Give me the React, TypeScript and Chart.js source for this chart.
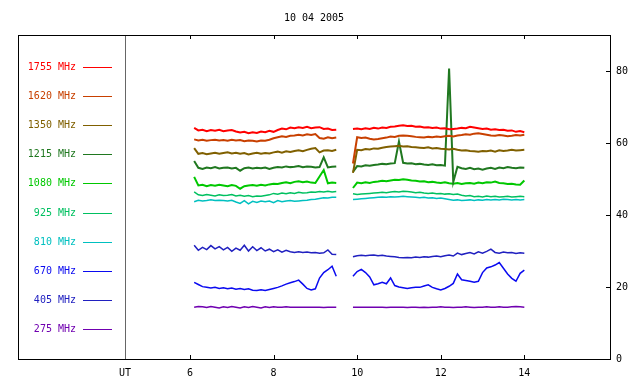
import React, { useEffect, useRef } from 'react';
import { Chart, registerables } from 'chart.js';

Chart.register(...registerables);

const TITLE = '10 04 2005';

// sample times (UT hours): morning block, gap marker, afternoon block
const TIMES_A = [6.1, 6.2, 6.3, 6.4, 6.5, 6.6, 6.7, 6.8, 6.9, 7.0, 7.1, 7.2, 7.3, 7.4, 7.5, 7.6, 7.7, 7.8, 7.9, 8.0, 8.1, 8.2, 8.3, 8.4, 8.5, 8.6, 8.7, 8.8, 8.9, 9.0, 9.1, 9.2, 9.3, 9.4, 9.5];
const GAP_TIME = 9.7;
const TIMES_B = [9.9, 10.0, 10.1, 10.2, 10.3, 10.4, 10.5, 10.6, 10.7, 10.8, 10.9, 11.0, 11.1, 11.2, 11.3, 11.4, 11.5, 11.6, 11.7, 11.8, 11.9, 12.0, 12.1, 12.2, 12.3, 12.4, 12.5, 12.6, 12.7, 12.8, 12.9, 13.0, 13.1, 13.2, 13.3, 13.4, 13.5, 13.6, 13.7, 13.8, 13.9, 14.0];

const X_TICKS = [6, 8, 10, 12, 14];
const UT_POS = 4.445;
const UT_LABEL = 'UT';
const Y_TICKS = [0, 20, 40, 60, 80];

const S1755_A = [64.2, 63.5, 63.7, 63.3, 63.6, 63.4, 63.7, 63.3, 63.5, 63.6, 63.2, 62.9, 63.1, 62.7, 63.0, 62.8, 63.2, 63.0, 63.4, 63.1, 63.6, 64.0, 63.8, 64.3, 64.1, 64.4, 64.2, 64.5, 64.1, 64.3, 64.4, 63.9, 64.0, 63.6, 63.7];
const S1755_B = [63.9, 64.0, 63.8, 64.1, 63.9, 64.2, 64.0, 64.3, 64.2, 64.5, 64.6, 64.8, 64.9, 64.7, 64.8, 64.5, 64.6, 64.3, 64.4, 64.2, 64.3, 64.0, 64.1, 63.8, 63.9, 64.0, 64.2, 64.1, 64.5, 64.3, 64.1, 63.9, 64.0, 63.7, 63.8, 63.6, 63.7, 63.4, 63.5, 63.1, 63.3, 63.0];

const S1620_A = [61.0, 60.7, 60.9, 60.6, 60.8, 60.9, 60.7, 60.8, 60.6, 60.9, 60.7, 60.8, 60.5, 60.7, 60.6, 60.4, 60.7, 60.6, 60.9, 61.3, 61.6, 61.9, 61.7, 62.0, 62.1, 62.3, 62.1, 62.4, 62.2, 62.5, 61.4, 61.2, 61.6, 61.3, 61.5];
const S1620_B = [54.3, 61.6, 61.4, 61.5, 61.2, 61.0, 61.1, 61.3, 61.5, 61.8, 61.7, 62.0, 62.1, 62.0, 61.9, 61.7, 61.6, 61.5, 61.7, 61.6, 61.8, 61.7, 61.9, 62.0, 61.8, 62.1, 62.2, 62.4, 62.3, 62.6, 62.7, 62.5, 62.3, 62.1, 62.0, 62.2, 62.1, 61.9, 62.0, 62.2, 62.1, 62.3];

const S1350_A = [58.6, 57.0, 57.2, 56.9, 57.1, 57.3, 57.0, 57.2, 57.4, 57.1, 57.3, 57.0, 57.2, 56.8, 57.1, 57.3, 57.0, 57.2, 57.1, 57.4, 57.6, 57.3, 57.7, 57.5, 57.8, 58.0, 57.7, 58.1, 58.4, 58.6, 57.4, 57.9, 58.0, 57.8, 58.1];
const S1350_B = [51.7, 58.1, 58.0, 58.3, 58.2, 58.5, 58.4, 58.7, 58.9, 59.0, 59.1, 59.2, 59.0, 59.1, 58.9, 58.8, 58.7, 58.6, 58.8, 58.5, 58.6, 58.4, 58.3, 58.2, 58.4, 58.1, 57.9, 58.0, 57.8, 57.7, 57.6, 57.8, 57.7, 57.9, 57.6, 58.0, 57.8, 57.9, 58.1, 57.9, 58.0, 58.1];

const S1215_A = [55.0, 53.1, 52.8, 53.2, 53.0, 53.3, 52.9, 53.1, 53.2, 52.9, 53.1, 52.3, 53.0, 53.2, 52.9, 53.1, 53.0, 53.2, 52.8, 53.1, 53.3, 53.2, 53.5, 53.3, 53.4, 53.6, 53.3, 53.5, 53.4, 53.2, 53.3, 56.0, 53.2, 53.4, 53.5];
const S1215_B = [52.0, 53.6, 53.5, 53.8, 53.7, 53.9, 54.0, 54.2, 54.1, 54.3, 54.4, 60.4, 54.5, 54.3, 54.4, 54.1, 54.2, 54.0, 53.9, 54.1, 53.8, 53.9, 53.7, 80.7, 49.2, 53.4, 53.0, 52.8, 53.1, 52.7, 52.9, 52.6, 52.9, 53.1, 52.8, 53.2, 53.0, 53.3, 53.1, 53.0, 53.2, 53.1];

const S1080_A = [50.6, 48.2, 48.4, 48.0, 48.3, 48.1, 48.4, 48.2, 48.0, 48.3, 48.1, 47.3, 48.0, 48.2, 48.3, 48.1, 48.4, 48.2, 48.5, 48.7, 48.6, 48.9, 49.1, 48.8, 49.2, 49.4, 49.1, 49.3, 49.0, 48.9, 50.7, 52.5, 48.8, 49.0, 48.9];
const S1080_B = [47.5, 49.0, 48.8, 49.1, 48.9, 49.2, 49.3, 49.5, 49.4, 49.6, 49.8, 49.7, 49.9, 49.8, 49.6, 49.5, 49.3, 49.4, 49.1, 49.2, 49.0, 48.9, 49.1, 48.8, 48.7, 48.9, 48.6, 48.8, 48.9, 48.7, 49.0, 48.8, 49.1, 49.0, 49.3, 48.9, 48.8, 48.6, 48.7, 48.5, 48.4, 49.6];

const S925_A = [46.4, 45.6, 45.4, 45.7, 45.5, 45.3, 45.6, 45.4, 45.5, 45.7, 45.3, 45.5, 45.2, 45.4, 45.1, 45.3, 45.2, 45.4, 45.6, 46.0, 45.8, 46.1, 45.9, 46.2, 46.0, 46.3, 46.1, 46.2, 46.4, 46.3, 46.5, 46.4, 46.6, 46.4, 46.5];
const S925_B = [45.9, 45.7, 45.8, 45.9, 46.0, 46.1, 46.2, 46.3, 46.2, 46.4, 46.5, 46.4, 46.6, 46.5, 46.4, 46.2, 46.3, 46.1, 46.0, 46.1, 45.9, 46.0, 45.8, 45.9, 45.7, 45.8, 45.5, 45.3, 45.4, 45.1, 45.2, 45.0, 45.3, 45.1, 45.2, 45.0, 45.1, 45.2, 45.0, 45.1, 45.2, 45.1];

const S810_A = [43.7, 44.1, 43.9, 44.0, 44.2, 44.0, 44.1, 44.0, 43.9, 44.1, 43.6, 43.2, 44.0, 43.1, 43.8, 43.5, 43.9, 43.7, 43.9, 43.4, 44.0, 43.7, 43.9, 44.0, 43.8, 43.9, 44.0, 44.1, 44.3, 44.4, 44.6, 44.8, 44.7, 44.9, 44.9];
const S810_B = [44.3, 44.4, 44.5, 44.6, 44.7, 44.8, 44.9, 45.0, 44.9, 45.1, 45.0, 45.1, 45.2, 45.1, 45.0, 44.9, 44.8, 44.9, 44.7, 44.8, 44.6, 44.7, 44.5, 44.3, 44.1, 44.2, 44.0, 44.1, 44.2, 44.0, 44.2, 44.1, 44.3, 44.2, 44.3, 44.2, 44.4, 44.3, 44.2, 44.3, 44.2, 44.3];

const S670_A = [21.3, 20.7, 20.1, 19.9, 19.7, 19.9, 19.6, 19.8, 19.5, 19.7, 19.4, 19.6, 19.3, 19.5, 19.1, 19.0, 19.2, 19.0, 19.3, 19.6, 19.9, 20.3, 20.8, 21.2, 21.5, 21.9, 20.8, 19.6, 19.2, 19.5, 22.5, 24.0, 24.8, 25.8, 23.0];
const S670_B = [23.0, 24.3, 24.9, 24.0, 22.8, 20.6, 20.9, 21.3, 20.9, 22.5, 20.4, 20.0, 19.8, 19.6, 19.8, 19.9, 19.9, 20.3, 20.6, 19.9, 19.5, 19.2, 19.6, 20.2, 21.0, 23.6, 22.0, 21.8, 21.6, 21.3, 21.6, 24.0, 25.3, 25.6, 26.1, 26.8, 25.2, 23.6, 22.4, 21.6, 23.8, 24.7];

const S405_A = [31.6, 30.2, 31.0, 30.4, 31.5, 30.6, 31.2, 30.3, 31.0, 29.9, 30.8, 30.2, 31.6, 30.0, 31.2, 30.1, 30.9, 30.0, 30.5, 29.8, 30.3, 29.7, 30.2, 29.8, 29.6, 29.8, 29.6, 29.7, 29.5, 29.6, 29.4, 29.5, 30.3, 29.1, 29.0];
const S405_B = [28.4, 28.7, 28.8, 28.7, 28.8, 28.9, 28.7, 28.8, 28.6, 28.5, 28.4, 28.2, 28.1, 28.2, 28.1, 28.3, 28.2, 28.4, 28.3, 28.5, 28.6, 28.4, 28.7, 28.9, 28.6, 29.4, 29.0, 29.3, 29.6, 29.2, 29.8, 29.4, 29.9, 30.5, 29.6, 29.4, 29.7, 29.5, 29.6, 29.3, 29.5, 29.4];

const S275_A = [14.4, 14.6, 14.5, 14.3, 14.6, 14.4, 14.2, 14.5, 14.3, 14.6, 14.4, 14.2, 14.5, 14.3, 14.6, 14.4, 14.2, 14.5, 14.3, 14.5, 14.4, 14.4, 14.5, 14.4, 14.4, 14.4, 14.4, 14.4, 14.4, 14.4, 14.4, 14.3, 14.4, 14.4, 14.4];
const S275_B = [14.4, 14.4, 14.4, 14.4, 14.4, 14.4, 14.4, 14.4, 14.3, 14.4, 14.4, 14.4, 14.4, 14.3, 14.4, 14.4, 14.3, 14.4, 14.3, 14.4, 14.4, 14.5, 14.4, 14.4, 14.3, 14.4, 14.4, 14.5, 14.4, 14.3, 14.4, 14.4, 14.5, 14.4, 14.4, 14.5, 14.4, 14.4, 14.5, 14.6, 14.5, 14.4];

const LABELS = ['1755 MHz', '1620 MHz', '1350 MHz', '1215 MHz', '1080 MHz', '925 MHz', '810 MHz', '670 MHz', '405 MHz', '275 MHz'];
const COLORS = ['#ff0000', '#c84000', '#806000', '#207820', '#00c800', '#00c060', '#00c0c0', '#0a0af0', '#2020c0', '#7000b0'];
const WIDTHS = [2, 2, 2, 2, 2, 1.5, 1.5, 1.5, 1.5, 1.5];
const SERIES_A = [S1755_A, S1620_A, S1350_A, S1215_A, S1080_A, S925_A, S810_A, S670_A, S405_A, S275_A];
const SERIES_B = [S1755_B, S1620_B, S1350_B, S1215_B, S1080_B, S925_B, S810_B, S670_B, S405_B, S275_B];

const FONT = '"DejaVu Sans Mono", monospace';

const decor = {
  id: 'decor',
  beforeDatasetsDraw(chart: any) {
    const { ctx, chartArea: a, scales } = chart;
    const xs = scales.x;
    const ys = scales.y;
    ctx.save();
    // UT divider
    const ux = Math.round(xs.getPixelForValue(UT_POS));
    ctx.fillStyle = '#666666';
    ctx.fillRect(ux, a.top, 1, a.bottom - a.top);
    // frame
    ctx.lineWidth = 1;
    ctx.strokeStyle = '#000000';
    ctx.strokeRect(a.left + 0.5, a.top + 0.5, a.right - a.left, a.bottom - a.top);
    // inward tick marks
    ctx.fillStyle = '#000000';
    for (const v of X_TICKS) {
      const px = Math.round(xs.getPixelForValue(v));
      ctx.fillRect(px, a.top, 1, 4);
      ctx.fillRect(px, a.bottom - 4, 1, 5);
    }
    for (const v of Y_TICKS) {
      const py = Math.round(ys.getPixelForValue(v));
      ctx.fillRect(a.right - 4, py, 5, 1);
    }
    // title
    ctx.font = '10px ' + FONT;
    ctx.fillStyle = '#000000';
    ctx.textAlign = 'center';
    ctx.textBaseline = 'middle';
    ctx.fillText(TITLE, (a.left + a.right) / 2, a.top - 17);
    // frequency legend
    ctx.textAlign = 'right';
    LABELS.forEach((lab, i) => {
      const ly = a.top + 32.5 + i * 29.1;
      ctx.fillStyle = COLORS[i];
      ctx.fillText(lab, a.left + 58, ly);
      ctx.fillRect(a.left + 65, Math.floor(ly), 29, 1);
    });
    ctx.restore();
  },
};

export default function App() {
  const ref = useRef<HTMLCanvasElement | null>(null);
  useEffect(() => {
    document.body.style.margin = '0';
    const canvas = ref.current;
    if (!canvas) return;
    const datasets = LABELS.map((lab, i) => {
      const pts: any[] = [];
      TIMES_A.forEach((t, k) => pts.push({ x: t, y: SERIES_A[i][k] }));
      pts.push({ x: GAP_TIME, y: null });
      TIMES_B.forEach((t, k) => pts.push({ x: t, y: SERIES_B[i][k] }));
      return {
        label: lab,
        data: pts,
        borderColor: COLORS[i],
        backgroundColor: COLORS[i],
        borderWidth: WIDTHS[i],
        pointRadius: 0,
        tension: 0,
        spanGaps: false,
        fill: false,
      };
    });
    const chart = new Chart(canvas, {
      type: 'line',
      data: { datasets },
      plugins: [decor],
      options: {
        animation: false,
        responsive: false,
        devicePixelRatio: 1,
        layout: { padding: { left: 18, top: 35, right: 0, bottom: 0 } },
        plugins: { legend: { display: false }, tooltip: { enabled: false }, title: { display: false } },
        scales: {
          x: {
            type: 'linear',
            min: 1.885,
            max: 16.05,
            grid: { display: false, drawTicks: false },
            border: { display: false },
            afterBuildTicks: (s: any) => {
              s.ticks = [{ value: UT_POS }, ...X_TICKS.map((v) => ({ value: v }))];
            },
            afterFit: (s: any) => {
              s.height = 25;
            },
            ticks: {
              autoSkip: false,
              maxRotation: 0,
              padding: 8,
              color: '#000000',
              font: { family: FONT, size: 10 },
              callback: (v: any) => (Math.abs(v - UT_POS) < 0.01 ? UT_LABEL : String(v)),
            },
          },
          y: {
            type: 'linear',
            position: 'right',
            min: 0,
            max: 90,
            grid: { display: false, drawTicks: false },
            border: { display: false },
            afterBuildTicks: (s: any) => {
              s.ticks = Y_TICKS.map((v) => ({ value: v }));
            },
            afterFit: (s: any) => {
              s.width = 30;
            },
            ticks: {
              padding: 6,
              color: '#000000',
              font: { family: FONT, size: 10 },
            },
          },
        },
      },
    });
    return () => chart.destroy();
  }, []);
  return (
    <div style={{ width: 640, height: 384 }}>
      <canvas ref={ref} width={640} height={384} style={{ display: 'block' }} />
    </div>
  );
}
